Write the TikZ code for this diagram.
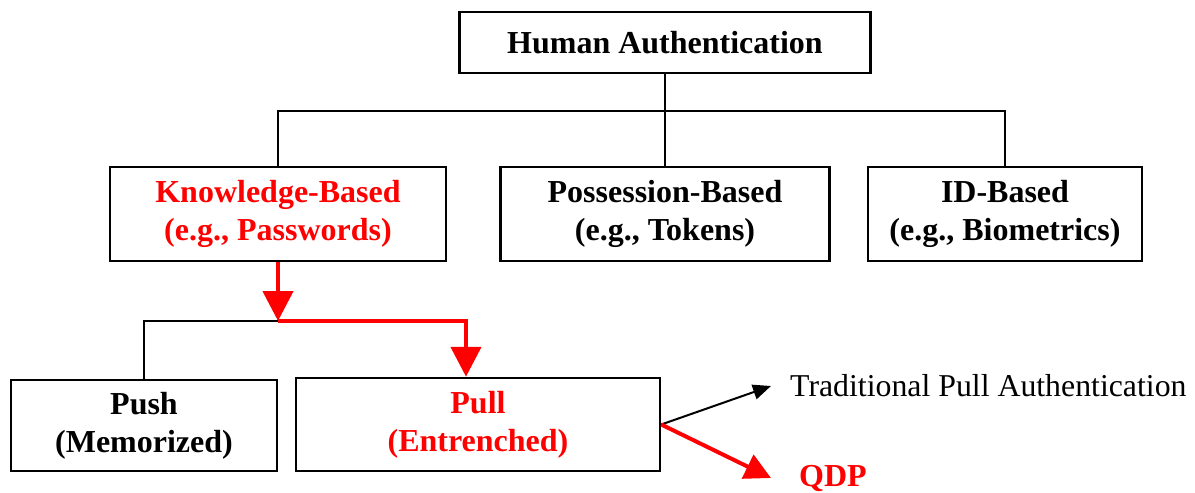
\documentclass[tikz,border=0pt]{standalone}
\usepackage{fontspec}
\setmainfont{Liberation Serif}
\usetikzlibrary{arrows.meta}
\begin{document}
\begin{tikzpicture}[x=1pt,y=-1pt,
  box/.style={draw,line width=2.5pt,align=center,inner sep=0pt,
    font=\bfseries\fontsize{32}{38}\selectfont},
  link/.style={line width=2pt},
  redlink/.style={draw=red,line width=4.5pt,-{Triangle[width=30pt,length=30pt]}}]
\useasboundingbox (0,0) rectangle (1195,493);
\node (human) at (665,42.5) [box,minimum width=411pt,minimum height=61pt] {Human Authentication};
\node (know) at (278,214) [box,minimum width=336pt,minimum height=94pt,text=red] {Knowledge-Based\\(e.g., Passwords)};
\node (poss) at (665,214) [box,minimum width=329pt,minimum height=94pt] {Possession-Based\\(e.g., Tokens)};
\node (id) at (1005,214) [box,minimum width=274pt,minimum height=94pt] {ID-Based\\(e.g., Biometrics)};
\node (push) at (144,425.5) [box,minimum width=266pt,minimum height=91pt] {Push\\(Memorized)};
\node (pull) at (478,424.5) [box,minimum width=364pt,minimum height=93pt,text=red] {Pull\\(Entrenched)};
\node (trad) at (790,386) [anchor=west,inner sep=0pt,font=\fontsize{31.8}{38}\selectfont] {Traditional Pull Authentication};
\node (qdp) at (799,478) [anchor=west,inner sep=0pt,text=red,font=\bfseries\fontsize{32}{38}\selectfont] {QDP};
\coordinate (bus) at (665,111);
\coordinate (split) at (278,321);
\draw[link] (human) -- (poss);
\draw[link] (know.north) |- (bus) -| (id.north);
\draw[link] (push.north) |- (split);
\draw[redlink] (know.south) -- (split);
\draw[redlink] (split) -| ([xshift=-12pt]pull.north);
\draw[link,-{Triangle[width=15pt,length=18pt]}] (pull.east) -- ([xshift=-19pt]trad.west);
\draw[red,line width=4pt,-{Triangle[width=26pt,length=26pt]}] (pull.east) -- ([xshift=-28pt]qdp.west);
\end{tikzpicture}
\end{document}
